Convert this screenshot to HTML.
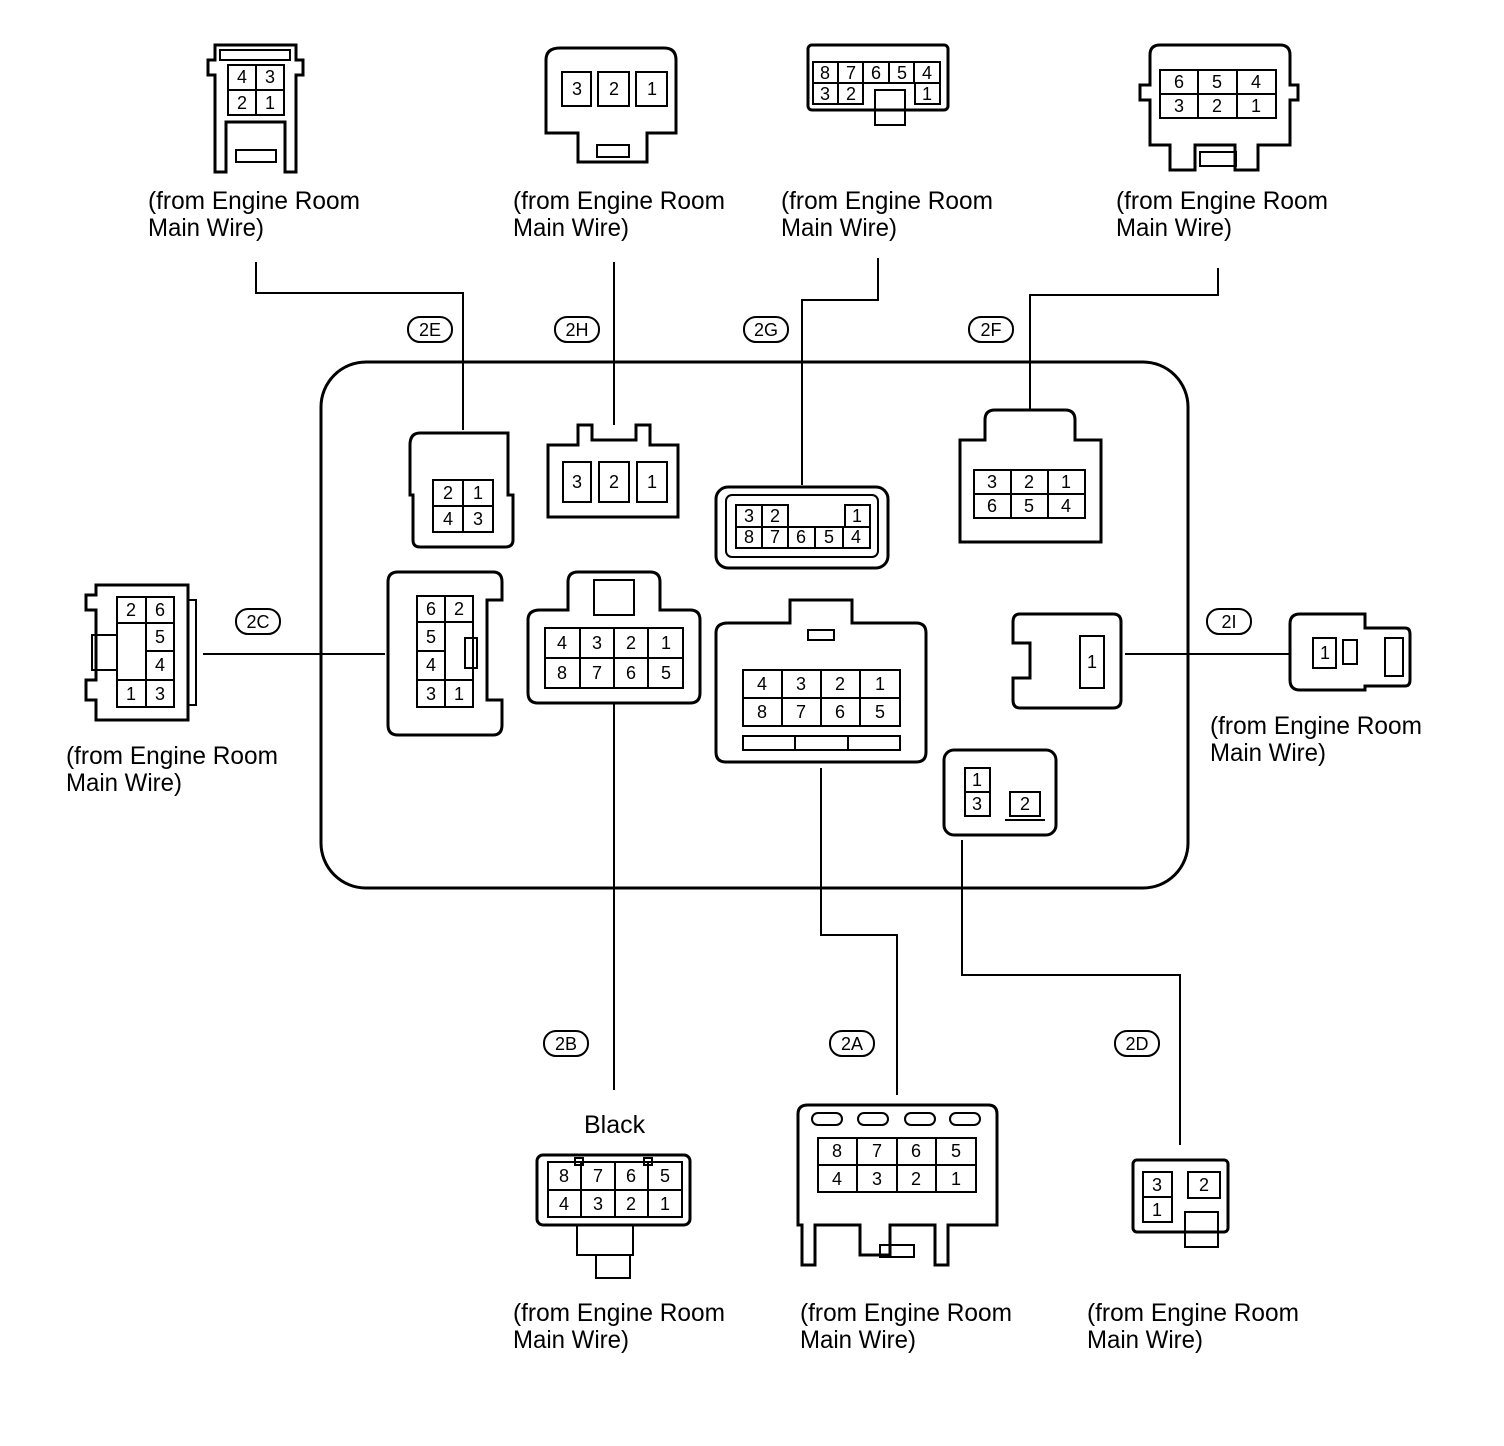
<!DOCTYPE html>
<html><head><meta charset="utf-8"><style>
html,body{margin:0;padding:0;background:#fff}
svg{display:block}
text{font-family:"Liberation Sans",sans-serif;fill:#000}
.n{font-size:18px;text-anchor:middle;dominant-baseline:central}
.l{font-size:25px}
.o{font-size:18px;text-anchor:middle;dominant-baseline:central}
</style></head><body>
<svg width="1504" height="1446" viewBox="0 0 1504 1446" xmlns="http://www.w3.org/2000/svg">
<g fill="none" stroke="#000" stroke-width="3">
<rect x="321" y="362" width="867" height="526" rx="45"/>
<polyline stroke-width="2" points="256,262 256,293 463,293 463,430"/>
<polyline stroke-width="2" points="614,262 614,425"/>
<polyline stroke-width="2" points="878,258 878,300 802,300 802,485"/>
<polyline stroke-width="2" points="1218,268 1218,295 1030,295 1030,410"/>
<polyline stroke-width="2" points="203,654 385,654"/>
<polyline stroke-width="2" points="1125,654 1290,654"/>
<polyline stroke-width="2" points="614,703 614,1090"/>
<polyline stroke-width="2" points="821,768 821,935 897,935 897,1095"/>
<polyline stroke-width="2" points="962,840 962,975 1180,975 1180,1145"/>
<rect x="408" y="317" width="44" height="25" rx="12" stroke-width="2"/>
<rect x="555" y="317" width="44" height="25" rx="12" stroke-width="2"/>
<rect x="744" y="317" width="44" height="25" rx="12" stroke-width="2"/>
<rect x="969" y="317" width="44" height="25" rx="12" stroke-width="2"/>
<rect x="236" y="609" width="44" height="25" rx="12" stroke-width="2"/>
<rect x="1207" y="609" width="44" height="25" rx="12" stroke-width="2"/>
<rect x="544" y="1031" width="44" height="25" rx="12" stroke-width="2"/>
<rect x="830" y="1031" width="44" height="25" rx="12" stroke-width="2"/>
<rect x="1115" y="1031" width="44" height="25" rx="12" stroke-width="2"/>

<path d="M215,172 V75 H208 V60 H215 V45 H296 V60 H303 V75 H296 V172 H285 V122 H226 V172 Z"/>
<rect x="220" y="50" width="70" height="10" stroke-width="2"/>
<rect x="228" y="65" width="56" height="50" stroke-width="2"/>
<line x1="256" y1="65" x2="256" y2="115" stroke-width="2"/><line x1="228" y1="90" x2="284" y2="90" stroke-width="2"/>
<rect x="236" y="150" width="40" height="12" stroke-width="2"/>
<path d="M546,60 Q546,48 560,48 H664 Q676,48 676,60 V133 H647 V162 H578 V133 H546 Z"/>
<rect x="562" y="72" width="29" height="34" stroke-width="2"/><rect x="598" y="72" width="31" height="34" stroke-width="2"/><rect x="636" y="72" width="31" height="34" stroke-width="2"/>
<rect x="597" y="145" width="32" height="12" stroke-width="2"/>
<rect x="808" y="45" width="140" height="65" rx="4"/>
<rect x="813" y="62" width="127" height="21" stroke-width="2"/>
<line x1="838" y1="62" x2="838" y2="83" stroke-width="2"/><line x1="863" y1="62" x2="863" y2="104" stroke-width="2"/><line x1="889" y1="62" x2="889" y2="83" stroke-width="2"/><line x1="914" y1="62" x2="914" y2="83" stroke-width="2"/>
<rect x="813" y="83" width="50" height="21" stroke-width="2"/><line x1="838" y1="83" x2="838" y2="104" stroke-width="2"/>
<rect x="915" y="83" width="25" height="21" stroke-width="2"/>
<rect x="875" y="90" width="30" height="35" stroke-width="2"/>
<path d="M1150,145 V100 H1140 V85 H1150 V55 Q1150,45 1160,45 H1280 Q1290,45 1290,55 V85 H1298 V100 H1290 V145 H1258 V170 H1235 V145 H1195 V170 H1170 V145 Z"/>
<rect x="1160" y="70" width="116" height="48" stroke-width="2"/>
<line x1="1198" y1="70" x2="1198" y2="118" stroke-width="2"/><line x1="1237" y1="70" x2="1237" y2="118" stroke-width="2"/><line x1="1160" y1="94" x2="1276" y2="94" stroke-width="2"/>
<rect x="1200" y="152" width="36" height="14" stroke-width="2"/>

<path d="M420,433 H508 V495 H513 V540 Q513,547 505,547 H420 Q413,547 413,540 V495 H410 V445 Q410,433 420,433 Z"/>
<rect x="433" y="480" width="60" height="52" stroke-width="2"/>
<line x1="463" y1="480" x2="463" y2="532" stroke-width="2"/><line x1="433" y1="506" x2="493" y2="506" stroke-width="2"/>
<path d="M548,445 H578 V425 H592 V440 H636 V425 H650 V445 H678 V517 H548 Z"/>
<rect x="563" y="462" width="28" height="40" stroke-width="2"/><rect x="599" y="462" width="30" height="40" stroke-width="2"/><rect x="637" y="462" width="30" height="40" stroke-width="2"/>
<rect x="716" y="487" width="172" height="81" rx="12"/>
<rect x="726" y="495" width="152" height="62" rx="6" stroke-width="2"/>
<rect x="736" y="505" width="52" height="22" stroke-width="2"/><line x1="762" y1="505" x2="762" y2="527" stroke-width="2"/>
<rect x="845" y="505" width="25" height="22" stroke-width="2"/>
<rect x="736" y="527" width="134" height="21" stroke-width="2"/>
<line x1="762" y1="527" x2="762" y2="548" stroke-width="2"/><line x1="788" y1="527" x2="788" y2="548" stroke-width="2"/><line x1="815" y1="527" x2="815" y2="548" stroke-width="2"/><line x1="843" y1="527" x2="843" y2="548" stroke-width="2"/>
<path d="M960,440 H985 V420 Q985,410 995,410 H1065 Q1075,410 1075,420 V440 H1101 V542 H960 Z"/>
<rect x="974" y="470" width="111" height="48" stroke-width="2"/>
<line x1="1011" y1="470" x2="1011" y2="518" stroke-width="2"/><line x1="1048" y1="470" x2="1048" y2="518" stroke-width="2"/><line x1="974" y1="494" x2="1085" y2="494" stroke-width="2"/>
<path d="M398,572 H493 Q502,572 502,582 V600 H487 V700 H502 V725 Q502,735 493,735 H398 Q388,735 388,725 V582 Q388,572 398,572 Z"/>
<rect x="417" y="596" width="56" height="111" stroke-width="2"/>
<line x1="445" y1="596" x2="445" y2="707" stroke-width="2"/><line x1="417" y1="622" x2="473" y2="622" stroke-width="2"/><line x1="417" y1="651" x2="445" y2="651" stroke-width="2"/><line x1="417" y1="680" x2="473" y2="680" stroke-width="2"/>
<rect x="465" y="638" width="12" height="30" stroke-width="2"/>
<path d="M540,610 H568 V582 Q568,572 578,572 H650 Q660,572 660,582 V610 H690 Q700,610 700,620 V693 Q700,703 690,703 H538 Q528,703 528,693 V620 Q528,610 540,610 Z"/>
<rect x="594" y="580" width="40" height="35" stroke-width="2"/>
<rect x="545" y="628" width="138" height="60" stroke-width="2"/>
<line x1="580" y1="628" x2="580" y2="688" stroke-width="2"/><line x1="614" y1="628" x2="614" y2="688" stroke-width="2"/><line x1="648" y1="628" x2="648" y2="688" stroke-width="2"/><line x1="545" y1="658" x2="683" y2="658" stroke-width="2"/>
<path d="M728,623 H790 V600 H852 V623 H916 Q926,623 926,633 V752 Q926,762 916,762 H726 Q716,762 716,752 V633 Q716,623 728,623 Z"/>
<rect x="743" y="670" width="157" height="56" stroke-width="2"/>
<line x1="782" y1="670" x2="782" y2="726" stroke-width="2"/><line x1="821" y1="670" x2="821" y2="726" stroke-width="2"/><line x1="860" y1="670" x2="860" y2="726" stroke-width="2"/><line x1="743" y1="698" x2="900" y2="698" stroke-width="2"/>
<rect x="743" y="736" width="157" height="14" stroke-width="2"/><line x1="795" y1="736" x2="795" y2="750" stroke-width="2"/><line x1="848" y1="736" x2="848" y2="750" stroke-width="2"/>
<rect x="808" y="630" width="26" height="10" stroke-width="2"/>
<path d="M1020,614 H1113 Q1121,614 1121,622 V700 Q1121,708 1113,708 H1020 Q1013,708 1013,700 V678 H1030 V643 H1013 V622 Q1013,614 1020,614 Z"/>
<rect x="1080" y="636" width="24" height="52" stroke-width="2"/>
<rect x="944" y="750" width="112" height="85" rx="10"/>
<rect x="965" y="768" width="25" height="48" stroke-width="2"/><line x1="965" y1="792" x2="990" y2="792" stroke-width="2"/>
<rect x="1010" y="792" width="30" height="24" stroke-width="2"/>
<polyline points="1005,820 1045,820" stroke-width="2"/>

<path d="M96,585 H188 V720 H96 V700 H86 V680 H96 V610 H86 V595 H96 Z"/>
<rect x="117" y="597" width="57" height="110" stroke-width="2"/>
<line x1="146" y1="597" x2="146" y2="707" stroke-width="2"/><line x1="117" y1="623" x2="174" y2="623" stroke-width="2"/><line x1="146" y1="651" x2="174" y2="651" stroke-width="2"/><line x1="117" y1="680" x2="174" y2="680" stroke-width="2"/>
<rect x="92" y="635" width="25" height="35" stroke-width="2"/>
<rect x="188" y="600" width="8" height="105" stroke-width="2"/>
<path d="M1300,614 H1365 V628 H1405 Q1410,628 1410,634 V680 Q1410,686 1405,686 H1365 V690 H1300 Q1290,690 1290,680 V624 Q1290,614 1300,614 Z"/>
<rect x="1313" y="638" width="23" height="30" stroke-width="2"/>
<rect x="1343" y="640" width="14" height="24" stroke-width="2"/>
<rect x="1385" y="638" width="18" height="38" stroke-width="2"/>

<rect x="537" y="1155" width="153" height="70" rx="6"/>
<rect x="548" y="1162" width="134" height="55" stroke-width="2"/>
<line x1="581" y1="1162" x2="581" y2="1217" stroke-width="2"/><line x1="615" y1="1162" x2="615" y2="1217" stroke-width="2"/><line x1="648" y1="1162" x2="648" y2="1217" stroke-width="2"/><line x1="548" y1="1190" x2="682" y2="1190" stroke-width="2"/>
<rect x="577" y="1225" width="56" height="30" stroke-width="2"/>
<rect x="596" y="1255" width="34" height="23" stroke-width="2"/>
<rect x="575" y="1158" width="8" height="7" stroke-width="2"/><rect x="644" y="1158" width="8" height="7" stroke-width="2"/>
<path d="M808,1105 H988 Q997,1105 997,1114 V1225 H948 V1265 H935 V1225 H890 V1255 H860 V1225 H815 V1265 H802 V1225 H798 V1114 Q798,1105 808,1105 Z"/>
<rect x="812" y="1113" width="30" height="12" rx="6" stroke-width="2"/><rect x="858" y="1113" width="30" height="12" rx="6" stroke-width="2"/><rect x="905" y="1113" width="30" height="12" rx="6" stroke-width="2"/><rect x="950" y="1113" width="30" height="12" rx="6" stroke-width="2"/>
<rect x="818" y="1138" width="158" height="54" stroke-width="2"/>
<line x1="857" y1="1138" x2="857" y2="1192" stroke-width="2"/><line x1="897" y1="1138" x2="897" y2="1192" stroke-width="2"/><line x1="936" y1="1138" x2="936" y2="1192" stroke-width="2"/><line x1="818" y1="1165" x2="976" y2="1165" stroke-width="2"/>
<rect x="880" y="1245" width="34" height="12" stroke-width="2"/>
<rect x="1133" y="1160" width="95" height="72" rx="4"/>
<rect x="1143" y="1172" width="29" height="50" stroke-width="2"/><line x1="1143" y1="1197" x2="1172" y2="1197" stroke-width="2"/>
<rect x="1188" y="1172" width="32" height="26" stroke-width="2"/>
<rect x="1185" y="1212" width="33" height="35" stroke-width="2"/>
</g>

<text class="n" x="242" y="77">4</text><text class="n" x="270" y="77">3</text><text class="n" x="242" y="103">2</text><text class="n" x="270" y="103">1</text>
<text class="n" x="577" y="89">3</text><text class="n" x="614" y="89">2</text><text class="n" x="652" y="89">1</text>
<text class="n" x="825" y="73">8</text><text class="n" x="851" y="73">7</text><text class="n" x="876" y="73">6</text><text class="n" x="902" y="73">5</text><text class="n" x="927" y="73">4</text>
<text class="n" x="825" y="94">3</text><text class="n" x="851" y="94">2</text><text class="n" x="927" y="94">1</text>
<text class="n" x="1179" y="82">6</text><text class="n" x="1217" y="82">5</text><text class="n" x="1256" y="82">4</text>
<text class="n" x="1179" y="106">3</text><text class="n" x="1217" y="106">2</text><text class="n" x="1256" y="106">1</text>

<text class="n" x="448" y="493">2</text><text class="n" x="478" y="493">1</text><text class="n" x="448" y="519">4</text><text class="n" x="478" y="519">3</text>
<text class="n" x="577" y="482">3</text><text class="n" x="614" y="482">2</text><text class="n" x="652" y="482">1</text>
<text class="n" x="749" y="516">3</text><text class="n" x="775" y="516">2</text><text class="n" x="857" y="516">1</text>
<text class="n" x="749" y="537">8</text><text class="n" x="775" y="537">7</text><text class="n" x="801" y="537">6</text><text class="n" x="829" y="537">5</text><text class="n" x="856" y="537">4</text>
<text class="n" x="992" y="482">3</text><text class="n" x="1029" y="482">2</text><text class="n" x="1066" y="482">1</text>
<text class="n" x="992" y="506">6</text><text class="n" x="1029" y="506">5</text><text class="n" x="1066" y="506">4</text>
<text class="n" x="431" y="609">6</text><text class="n" x="459" y="609">2</text><text class="n" x="431" y="637">5</text><text class="n" x="431" y="665">4</text><text class="n" x="431" y="694">3</text><text class="n" x="459" y="694">1</text>
<text class="n" x="562" y="643">4</text><text class="n" x="597" y="643">3</text><text class="n" x="631" y="643">2</text><text class="n" x="666" y="643">1</text>
<text class="n" x="562" y="673">8</text><text class="n" x="597" y="673">7</text><text class="n" x="631" y="673">6</text><text class="n" x="666" y="673">5</text>
<text class="n" x="762" y="684">4</text><text class="n" x="801" y="684">3</text><text class="n" x="840" y="684">2</text><text class="n" x="880" y="684">1</text>
<text class="n" x="762" y="712">8</text><text class="n" x="801" y="712">7</text><text class="n" x="840" y="712">6</text><text class="n" x="880" y="712">5</text>
<text class="n" x="1092" y="662">1</text>
<text class="n" x="977" y="780">1</text><text class="n" x="977" y="804">3</text><text class="n" x="1025" y="804">2</text>

<text class="n" x="131" y="610">2</text><text class="n" x="160" y="610">6</text><text class="n" x="160" y="637">5</text><text class="n" x="160" y="665">4</text><text class="n" x="131" y="694">1</text><text class="n" x="160" y="694">3</text>
<text class="n" x="1325" y="653">1</text>

<text class="n" x="564" y="1176">8</text><text class="n" x="598" y="1176">7</text><text class="n" x="631" y="1176">6</text><text class="n" x="665" y="1176">5</text>
<text class="n" x="564" y="1204">4</text><text class="n" x="598" y="1204">3</text><text class="n" x="631" y="1204">2</text><text class="n" x="665" y="1204">1</text>
<text class="n" x="837" y="1151">8</text><text class="n" x="877" y="1151">7</text><text class="n" x="916" y="1151">6</text><text class="n" x="956" y="1151">5</text>
<text class="n" x="837" y="1179">4</text><text class="n" x="877" y="1179">3</text><text class="n" x="916" y="1179">2</text><text class="n" x="956" y="1179">1</text>
<text class="n" x="1157" y="1185">3</text><text class="n" x="1157" y="1210">1</text><text class="n" x="1204" y="1185">2</text>

<text class="o" x="430" y="330">2E</text><text class="o" x="577" y="330">2H</text><text class="o" x="766" y="330">2G</text><text class="o" x="991" y="330">2F</text>
<text class="o" x="258" y="622">2C</text><text class="o" x="1229" y="622">2I</text>
<text class="o" x="566" y="1044">2B</text><text class="o" x="852" y="1044">2A</text><text class="o" x="1137" y="1044">2D</text>

<text class="l" x="584" y="1133">Black</text>

<text class="l" x="148" y="209" textLength="212" lengthAdjust="spacingAndGlyphs">(from Engine Room</text><text class="l" x="148" y="236" textLength="116" lengthAdjust="spacingAndGlyphs">Main Wire)</text>
<text class="l" x="513" y="209" textLength="212" lengthAdjust="spacingAndGlyphs">(from Engine Room</text><text class="l" x="513" y="236" textLength="116" lengthAdjust="spacingAndGlyphs">Main Wire)</text>
<text class="l" x="781" y="209" textLength="212" lengthAdjust="spacingAndGlyphs">(from Engine Room</text><text class="l" x="781" y="236" textLength="116" lengthAdjust="spacingAndGlyphs">Main Wire)</text>
<text class="l" x="1116" y="209" textLength="212" lengthAdjust="spacingAndGlyphs">(from Engine Room</text><text class="l" x="1116" y="236" textLength="116" lengthAdjust="spacingAndGlyphs">Main Wire)</text>
<text class="l" x="66" y="764" textLength="212" lengthAdjust="spacingAndGlyphs">(from Engine Room</text><text class="l" x="66" y="791" textLength="116" lengthAdjust="spacingAndGlyphs">Main Wire)</text>
<text class="l" x="1210" y="734" textLength="212" lengthAdjust="spacingAndGlyphs">(from Engine Room</text><text class="l" x="1210" y="761" textLength="116" lengthAdjust="spacingAndGlyphs">Main Wire)</text>
<text class="l" x="513" y="1321" textLength="212" lengthAdjust="spacingAndGlyphs">(from Engine Room</text><text class="l" x="513" y="1348" textLength="116" lengthAdjust="spacingAndGlyphs">Main Wire)</text>
<text class="l" x="800" y="1321" textLength="212" lengthAdjust="spacingAndGlyphs">(from Engine Room</text><text class="l" x="800" y="1348" textLength="116" lengthAdjust="spacingAndGlyphs">Main Wire)</text>
<text class="l" x="1087" y="1321" textLength="212" lengthAdjust="spacingAndGlyphs">(from Engine Room</text><text class="l" x="1087" y="1348" textLength="116" lengthAdjust="spacingAndGlyphs">Main Wire)</text>
</svg>
</body></html>
